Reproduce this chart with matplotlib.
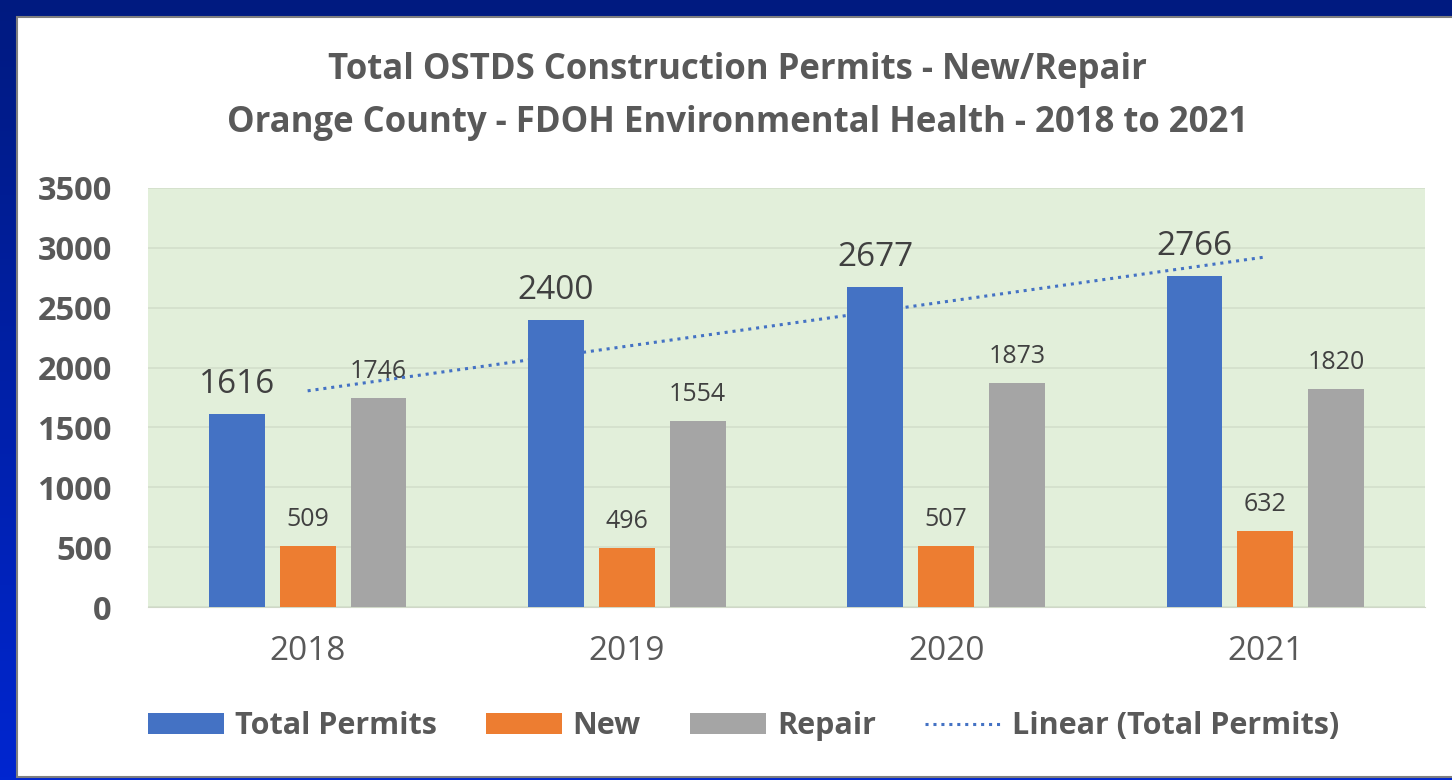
import matplotlib
matplotlib.use("Agg")
from matplotlib import pyplot as plt
from matplotlib.patches import Rectangle
import numpy as np

years = ["2018", "2019", "2020", "2021"]
total = [1616, 2400, 2677, 2766]
new = [509, 496, 507, 632]
repair = [1746, 1554, 1873, 1820]

plt.rcParams['font.family'] = ['Open Sans', 'DejaVu Sans']
grey_txt = '#595959'
lab_txt = '#404040'

fig = plt.figure(figsize=(14.52, 7.8), dpi=100)
fig.patch.set_facecolor('#0a1d8c')

# blue slide background, a bit brighter towards the bottom
bg = fig.add_axes([0, 0, 1, 1], zorder=-20)
grad = np.linspace(0, 1, 256).reshape(-1, 1)
bg.imshow(grad, aspect='auto', extent=(0, 1, 0, 1), origin='upper',
          cmap=matplotlib.colors.LinearSegmentedColormap.from_list('b', ['#001a80', '#0026d0']))
bg.axis('off')

# white panel
fig.patches.append(Rectangle((17 / 1452, 3 / 780), 1.0, 760 / 780, transform=fig.transFigure,
                             facecolor='white', edgecolor='#7f7f7f', linewidth=1.5, zorder=-10))

ax = fig.add_axes([148 / 1452, (780 - 607) / 780, (1425 - 148) / 1452, (607 - 188) / 780])
ax.set_facecolor('#e2efda')

x = np.arange(len(years))
w = 0.175
off = 0.222
b1 = ax.bar(x - off, total, w, color='#4472c4', label='Total Permits', zorder=3)
b2 = ax.bar(x, new, w, color='#ed7d31', label='New', zorder=3)
b3 = ax.bar(x + off, repair, w, color='#a5a5a5', label='Repair', zorder=3)

# linear trendline of total permits
k, c = np.polyfit(x, total, 1)
tl, = ax.plot(x, k * x + c, linestyle=(0, (1, 1.6)), color='#4472c4', linewidth=2.2,
              label='Linear (Total Permits)', zorder=4)

for rect, v in zip(b1, total):
    ax.annotate(str(v), (rect.get_x() + rect.get_width() / 2, v), xytext=(0, 9),
                textcoords='offset points', ha='center', va='bottom', fontsize=24, color=lab_txt)
for bars, vals in ((b2, new), (b3, repair)):
    for rect, v in zip(bars, vals):
        ax.annotate(str(v), (rect.get_x() + rect.get_width() / 2, v), xytext=(0, 10),
                    textcoords='offset points', ha='center', va='bottom', fontsize=18, color=lab_txt)

ax.set_xlim(-0.5, 3.5)
ax.set_ylim(0, 3500)
ax.set_yticks(np.arange(0, 3501, 500))
ax.set_xticks(x)
ax.set_xticklabels(years, fontsize=24, color=grey_txt)
ax.tick_params(axis='y', labelsize=23.5, labelcolor=grey_txt, length=0, pad=26)
for t in ax.get_yticklabels():
    t.set_fontweight('bold')
ax.tick_params(axis='x', length=0, pad=20)
ax.grid(axis='y', color='#d3dfcb', linewidth=1.2, zorder=0)
for s in ['top', 'right', 'left']:
    ax.spines[s].set_visible(False)
ax.spines['bottom'].set_color('#d0d8c8')

fig.text(0.508, 0.910, 'Total OSTDS Construction Permits - New/Repair', ha='center', va='center',
         fontsize=25, fontweight='bold', color=grey_txt)
fig.text(0.508, 0.842, 'Orange County - FDOH Environmental Health - 2018 to 2021', ha='center',
         va='center', fontsize=25, fontweight='bold', color=grey_txt)

leg = fig.legend(handles=[b1, b2, b3, tl], loc='center', bbox_to_anchor=(0.512, 0.069), ncol=4,
                 frameon=False, handlelength=2.5, handleheight=0.65, handletextpad=0.35,
                 columnspacing=1.6, prop={'size': 22, 'weight': 'bold'})
for t in leg.get_texts():
    t.set_color(grey_txt)

fig.savefig('out.png', dpi=100, facecolor=fig.get_facecolor())
